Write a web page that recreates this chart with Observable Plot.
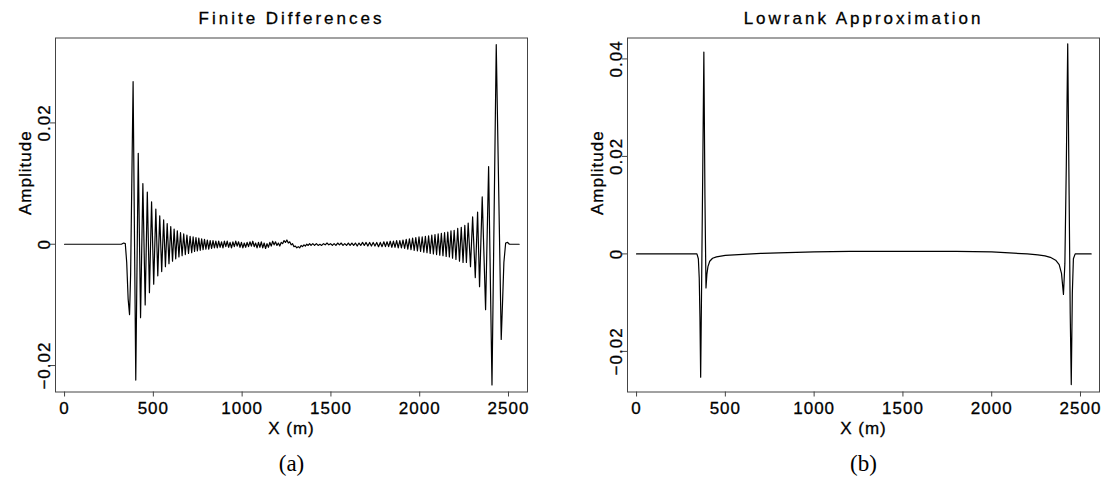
<!DOCTYPE html>
<html><head><meta charset="utf-8">
<script src="https://cdn.jsdelivr.net/npm/d3@7"></script>
<script src="https://cdn.jsdelivr.net/npm/@observablehq/plot@0.6"></script>
<style>
html,body{margin:0;padding:0;background:#fff}
body{width:1107px;height:483px;position:relative;overflow:hidden}
.panel{position:absolute;top:0}
.panel svg text{stroke:#000;stroke-width:0.3px}
.panel svg text.cap{stroke:none}
</style></head><body>
<div id="pa" class="panel" style="left:0px"></div>
<div id="pb" class="panel" style="left:572px"></div>
<script>
// ---- data ----
const xTicks = [0, 500, 1000, 1500, 2000, 2500];
const fdTicksY = [-0.02, 0, 0.02];
const lrTicksY = [-0.02, 0, 0.02, 0.04];
const titles = ["Finite Differences", "Lowrank Approximation"];
const captions = ["(a)", "(b)"];
const xLabel = "X (m)";
const yLabel = "Amplitude";

// Finite differences trace: [x (m), amplitude]
const fdPoints = [
[0,0],[320,0],[333,0.0002],[342,0.0001],[350,-0.003],[358,-0.009],[366,-0.0116],[372,-0.005],
[386,0.0268],[401,-0.0224],[415,0.0150],[428,-0.0121],[441,0.0100],[454,-0.0100],[466,0.0086],
[478,-0.0080],[490,0.0070],[502,-0.0066],[514,0.0058],[525,-0.0052],[536,0.0047],[547,-0.0045],
[558,0.0040],[568,-0.0037],[578,0.0034],[588,-0.0032],[598,0.0029],[608,-0.0028],[617,0.0025],
[626,-0.0024],[635,0.0022],[644,-0.0021],[653,0.0019],[662,-0.0019],[671,0.0017],[680,-0.0017],
[689,0.0015],[698,-0.0015],[707,0.0013],[716,-0.0014],[724,0.0012],[732,-0.0012],[740,0.0011],
[748,-0.0011],[756,0.0010],[764,-0.0010],[772,0.0009],[780,-0.0009],[788,0.0008],[796,-0.0008],
[804,0.0007],[812,-0.0008],[820,0.0006],[828,-0.0007],[836,0.0006],[844,-0.0006],[852,0.0005],
[860,-0.0006],[868,0.0005],[876,-0.0005],[884,0.0004],[892,-0.0006],[900,0.0005],[908,-0.0004],
[916,0.0005],[924,-0.0005],[932,0.0003],[940,-0.0006],[948,0.0004],[956,-0.0004],[964,0.0005],
[972,-0.0003],[980,0.0004],[988,-0.0005],[996,0.0003],[1004,-0.0006],[1012,0.0002],[1020,-0.0005],
[1028,0.0003],[1036,-0.0004],[1044,0.0004],[1052,-0.0003],[1060,0.0005],[1068,-0.0004],[1076,0.0002],
[1084,-0.0006],[1092,0.0003],[1100,-0.0005],[1108,0.0004],[1116,-0.0006],[1124,0.0002],[1132,-0.0007],
[1140,0.0001],[1148,-0.0005],[1156,0.0003],[1164,-0.0003],[1172,0.0005],[1180,-0.0001],[1188,0.0004],
[1196,-0.0002],[1204,0.0002],[1212,-0.0003],[1220,0.0003],[1228,0.0001],[1236,0.0006],[1244,0.0003],
[1252,0.0007],[1260,0.0002],[1268,0.0004],[1276,-0.0001],[1284,0.0001],[1292,-0.0004],[1300,-0.0003],
[1308,-0.0006],[1316,-0.0004],[1324,-0.0006],[1332,-0.0002],[1340,-0.0004],[1348,-0.0001],[1356,-0.0003],
[1364,0.0000],[1372,-0.0002],[1380,0.0001],[1388,-0.0002],[1398,0.0001],[1408,-0.0002],[1418,0.0001],
[1428,-0.0002],[1438,0.0000],[1448,-0.0002],[1458,0.0001],[1468,-0.0001],[1478,0.0002],[1488,-0.0001],
[1498,0.0001],[1508,-0.0002],[1518,0.0001],[1528,-0.0002],[1538,0.0002],[1548,-0.0001],[1558,0.0002],
[1568,-0.0002],[1578,0.0001],[1588,-0.0002],[1598,0.0002],[1608,-0.0002],[1618,0.0002],[1628,-0.0002],
[1638,0.0002],[1648,-0.0003],[1658,0.0002],[1668,-0.0002],[1678,0.0003],[1688,-0.0002],[1698,0.0003],
[1708,-0.0003],[1718,0.0003],[1728,-0.0003],[1738,0.0003],[1748,-0.0003],[1758,0.0003],[1768,-0.0004],
[1778,0.0003],[1788,-0.0004],[1798,0.0004],[1807,-0.0004],[1816,0.0004],[1825,-0.0004],[1834,0.0005],
[1843,-0.0005],[1852,0.0005],[1861,-0.0005],[1870,0.0006],[1879,-0.0006],[1888,0.0006],[1897,-0.0006],
[1906,0.0007],[1915,-0.0007],[1924,0.0008],[1933,-0.0008],[1942,0.0009],[1951,-0.0009],[1960,0.0010],
[1969,-0.0010],[1978,0.0011],[1987,-0.0011],[1996,0.0012],[2005,-0.0012],[2014,0.0012],[2023,-0.0013],
[2032,0.0013],[2041,-0.0014],[2050,0.0014],[2059,-0.0015],[2068,0.0015],[2077,-0.0016],[2086,0.0016],
[2095,-0.0017],[2104,0.0017],[2113,-0.0018],[2122,0.0018],[2131,-0.0019],[2140,0.0019],[2149,-0.0020],
[2158,0.0020],[2167,-0.0021],[2176,0.0022],[2185,-0.0023],[2194,0.0023],[2204,-0.0025],[2214,0.0026],
[2224,-0.0028],[2234,0.0028],[2244,-0.0030],[2254,0.0031],[2263,-0.0030],[2273,0.0035],[2286,-0.0037],
[2298,0.0045],[2313,-0.0055],[2326,0.0053],[2337,-0.0070],[2352,0.0078],[2371,-0.0108],[2388,0.0128],
[2407,-0.0232],[2431,0.0329],[2459,-0.0157],[2466,-0.0100],[2474,-0.0030],[2484,0.0002],[2495,0.0003],
[2505,0],[2560,0]
];

// Lowrank approximation trace: [x (m), amplitude]
const lrPoints = [
[0,0],[340,0],[348,-0.001],[353,-0.005],[357,-0.013],[361,-0.0253],[367,-0.004],[373,0.018],
[379,0.0414],[385,0.012],[391,-0.0070],[396,-0.0042],[402,-0.0026],[412,-0.0015],[428,-0.0009],
[450,-0.0006],[500,-0.0003],[600,-0.0001],[700,0.0001],[800,0.0002],[1000,0.0004],[1200,0.0005],
[1400,0.0005],[1600,0.0005],[1800,0.0005],[2000,0.0004],[2100,0.0002],[2200,0.0000],[2260,-0.0002],
[2300,-0.0004],[2330,-0.0007],[2360,-0.0013],[2380,-0.0022],[2393,-0.0040],[2404,-0.0083],
[2412,-0.002],[2420,0.018],[2428,0.0431],[2436,0.012],[2442,-0.012],[2448,-0.0268],[2454,-0.008],
[2460,-0.001],[2470,0],[2560,0]
];

const fdDomainY = [-0.02436, 0.0340];
const lrDomainY = [-0.02833, 0.04429];

function fmt(d) {
  if (d === 0) return "0";
  return (d < 0 ? "\u2212" : "") + Math.abs(d).toFixed(2);
}

function panel(points, yDomain, yTicks, title, caption) {
  const data = points.map(([x, y]) => ({x, y}));
  const svg = Plot.plot({
    width: 535, height: 483,
    marginLeft: 55, marginRight: 8, marginTop: 37.5, marginBottom: 91.5,
    style: "font-family:'Liberation Sans',Arial,Helvetica,sans-serif;font-size:17px;letter-spacing:1px;color:#000;background:#fff;overflow:visible",
    x: {domain: [-51, 2607]},
    y: {domain: yDomain},
    marks: [
      Plot.frame({stroke: "#444", strokeWidth: 1}),
      Plot.axisX({ticks: xTicks, tickSize: 5, tickPadding: 5, label: null, tickFormat: d => String(d), stroke: "#444", fill: "#000"}),
      Plot.axisY({ticks: yTicks, tickSize: 5, tickPadding: 1, tickRotate: -90, tickFormat: fmt, label: null, stroke: "#444", fill: "#000"}),
      Plot.line(data, {x: "x", y: "y", stroke: "#000", strokeWidth: 1.2}),
      Plot.text([title], {text: d => d, frameAnchor: "top", dy: -19, fontSize: 17, lineAnchor: "middle", fill: "#000"}),
      Plot.text([xLabel], {text: d => d, frameAnchor: "bottom", dy: 37, fontSize: 17, lineAnchor: "middle", fill: "#000"}),
      Plot.text([yLabel], {text: d => d, frameAnchor: "left", dx: -30, rotate: -90, fontSize: 17, lineAnchor: "middle", fill: "#000"}),
      Plot.text([caption], {text: d => d, frameAnchor: "bottom", dy: 72, fontSize: 23, fontFamily: "'Liberation Serif','DejaVu Serif',serif", lineAnchor: "middle", fill: "#000"})
    ]
  });
  d3.select(svg).selectAll("text").filter(function() { return this.textContent === title; })
    .style("letter-spacing", "3px");
  d3.select(svg).selectAll("text").filter(function() { return this.textContent === caption; })
    .style("letter-spacing", "0px").classed("cap", true);
  return svg;
}

document.getElementById("pa").appendChild(panel(fdPoints, fdDomainY, fdTicksY, titles[0], captions[0]));
document.getElementById("pb").appendChild(panel(lrPoints, lrDomainY, lrTicksY, titles[1], captions[1]));
</script>
</body></html>
